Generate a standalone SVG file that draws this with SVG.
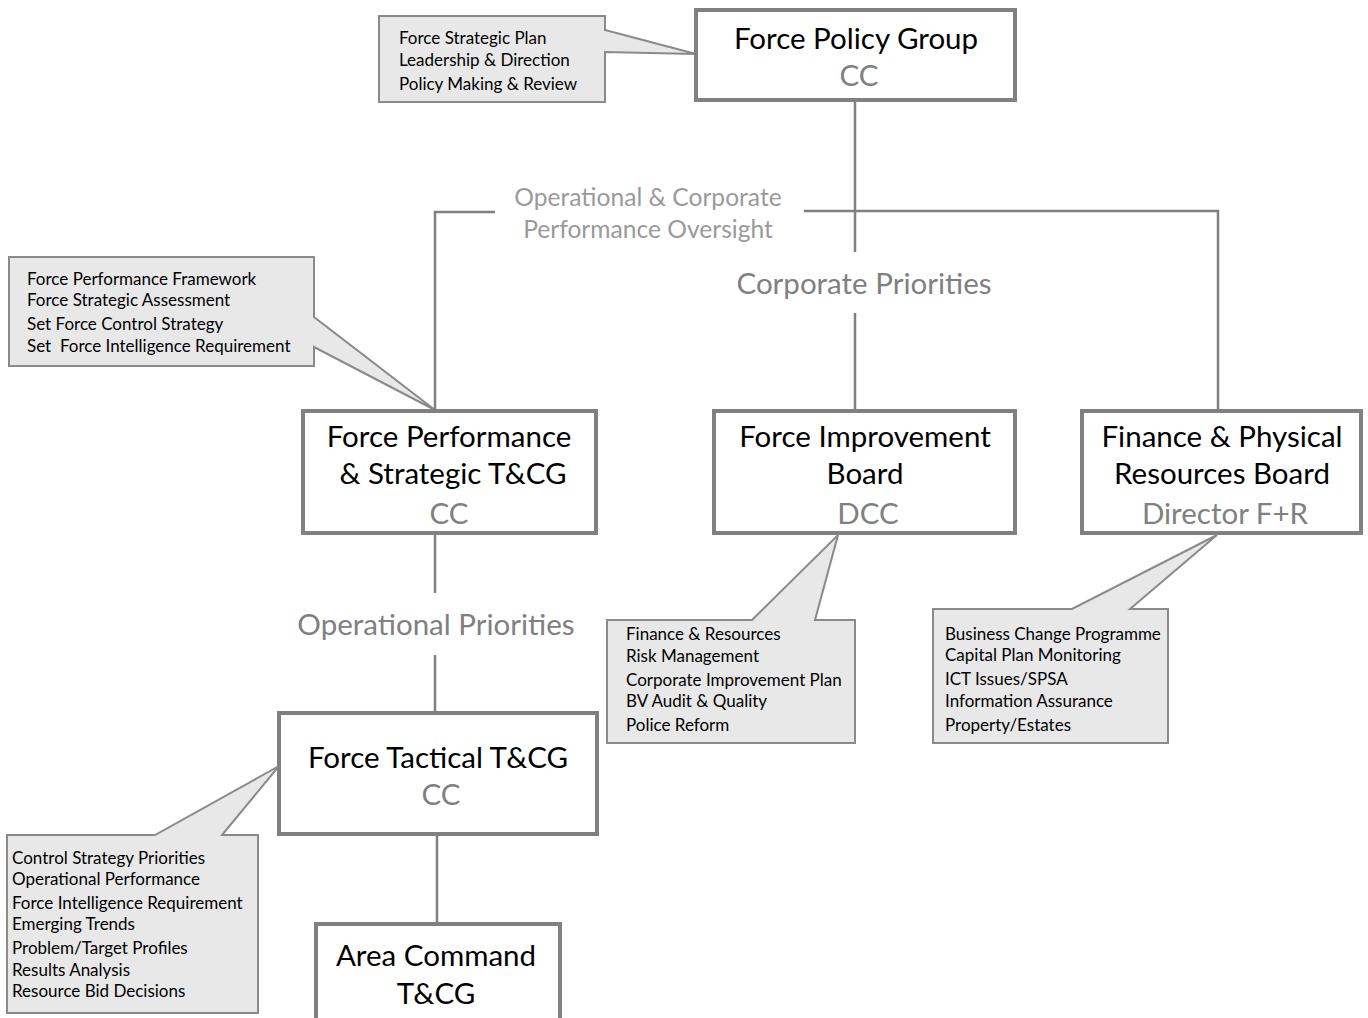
<svg xmlns="http://www.w3.org/2000/svg" width="1368" height="1018" viewBox="0 0 1368 1018">
<style>
.box{fill:#fff;stroke:#808080;stroke-width:4}
.call{fill:#e8e8e8;stroke:#8a8a8a;stroke-width:2;stroke-linejoin:miter}
.ln{stroke:#808080;stroke-width:2.5;fill:none}
.t{font-family:Lato,"Open Sans",sans-serif;font-size:29.5px;fill:#000;text-anchor:middle}
.s{font-family:Lato,"Open Sans",sans-serif;font-size:29.5px;fill:#808080;text-anchor:middle}
.c{font-family:Lato,"Open Sans",sans-serif;font-size:17px;fill:#000}
.lbl{font-family:Lato,"Open Sans",sans-serif;fill:#808080;text-anchor:middle}
</style>
<rect width="1368" height="1018" fill="#fff"/>
<g id="connectors">
<path class="ln" d="M855,100 V252 M855,313 V411 M804,211 H1218 V411 M495,212 H435 V411 M435,533 V593 M435,655 V713 M437,834 V924"/>
<text class="lbl" x="648" y="206" font-size="24.6" style="fill:#9a9a9a">Operational &amp; Corporate</text>
<text class="lbl" x="648" y="238" font-size="24.6" style="fill:#9a9a9a">Performance Oversight</text>
<text class="lbl" x="864" y="294" font-size="29.5">Corporate Priorities</text>
<text class="lbl" x="436" y="635" font-size="29.5">Operational Priorities</text>
</g>
<g id="callout-policy">
<path class="call" d="M379,16 H605 V30 L696,54 L605,52 V102 H379 Z"/>
<text class="c" x="399" y="44">Force Strategic Plan</text>
<text class="c" x="399" y="66">Leadership &amp; Direction</text>
<text class="c" x="399" y="90">Policy Making &amp; Review</text>
</g>
<g id="node-force-policy-group">
<rect class="box" x="696" y="10" width="319" height="90"/>
<text class="t" x="856" y="49">Force Policy Group</text>
<text class="s" x="859" y="86">CC</text>
</g>
<g id="callout-performance">
<path class="call" d="M9,257 H314 V317 L435,410 L314,347 V366 H9 Z"/>
<text class="c" x="27" y="285">Force Performance Framework</text>
<text class="c" x="27" y="306">Force Strategic Assessment</text>
<text class="c" x="27" y="330">Set Force Control Strategy</text>
<text class="c" x="27" y="352" xml:space="preserve">Set  Force Intelligence Requirement</text>
</g>
<g id="node-force-performance">
<rect class="box" x="303" y="411" width="293" height="122"/>
<text class="t" x="449" y="447">Force Performance</text>
<text class="t" x="453" y="484">&amp; Strategic T&amp;CG</text>
<text class="s" x="449" y="524">CC</text>
</g>
<g id="node-force-improvement">
<rect class="box" x="714" y="411" width="301" height="122"/>
<text class="t" x="865" y="447">Force Improvement</text>
<text class="t" x="865" y="484">Board</text>
<text class="s" x="868" y="524">DCC</text>
</g>
<g id="node-finance">
<rect class="box" x="1082" y="411" width="279" height="122"/>
<text class="t" x="1222" y="447">Finance &amp; Physical</text>
<text class="t" x="1222" y="484">Resources Board</text>
<text class="s" x="1225" y="524">Director F+R</text>
</g>
<g id="callout-improvement">
<path class="call" d="M607,620 H752 L838,535 L815,620 H855 V743 H607 Z"/>
<text class="c" x="626" y="640">Finance &amp; Resources</text>
<text class="c" x="626" y="662">Risk Management</text>
<text class="c" x="626" y="686">Corporate Improvement Plan</text>
<text class="c" x="626" y="707">BV Audit &amp; Quality</text>
<text class="c" x="626" y="731">Police Reform</text>
</g>
<g id="callout-finance">
<path class="call" d="M933,609 H1072 L1217,535 L1130,609 H1168 V743 H933 Z"/>
<text class="c" x="945" y="640">Business Change Programme</text>
<text class="c" x="945" y="661">Capital Plan Monitoring</text>
<text class="c" x="945" y="685">ICT Issues/SPSA</text>
<text class="c" x="945" y="707">Information Assurance</text>
<text class="c" x="945" y="731">Property/Estates</text>
</g>
<g id="node-force-tactical">
<rect class="box" x="279" y="713" width="318" height="121"/>
<text class="t" x="438" y="768">Force Tactical T&amp;CG</text>
<text class="s" x="441" y="805">CC</text>
</g>
<g id="callout-tactical">
<path class="call" d="M7,835 H155 L279,766 L222,835 H258 V1013 H7 Z"/>
<text class="c" x="12" y="864">Control Strategy Priorities</text>
<text class="c" x="12" y="885">Operational Performance</text>
<text class="c" x="12" y="909">Force Intelligence Requirement</text>
<text class="c" x="12" y="930">Emerging Trends</text>
<text class="c" x="12" y="954">Problem/Target Profiles</text>
<text class="c" x="12" y="976">Results Analysis</text>
<text class="c" x="12" y="997">Resource Bid Decisions</text>
</g>
<g id="node-area-command">
<rect class="box" x="316" y="924" width="244" height="110"/>
<text class="t" x="436" y="966">Area Command</text>
<text class="t" x="436" y="1004">T&amp;CG</text>
</g>
</svg>
